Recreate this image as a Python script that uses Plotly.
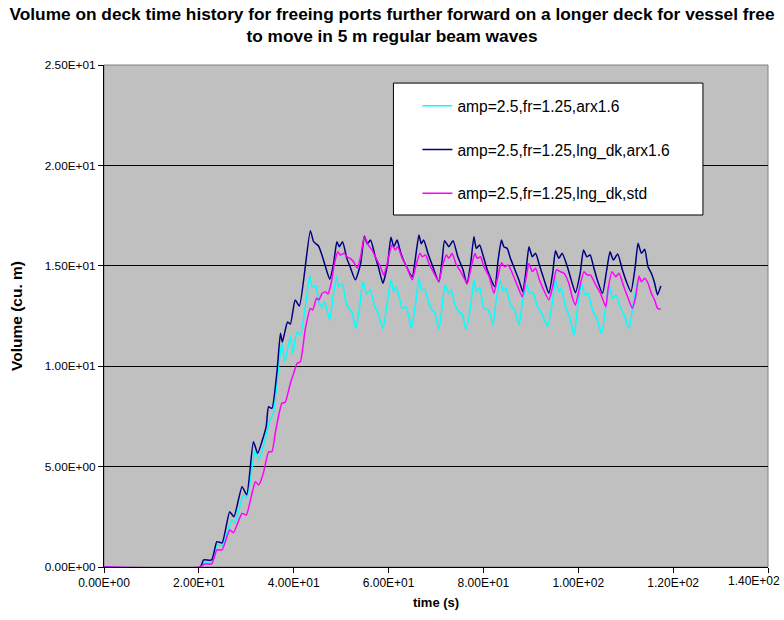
import plotly.graph_objects as go

# Volume on deck time histories (time in s, volume in cu. m)
t_arx = [0, 20.3, 21.0, 22.7, 23.8, 24.9, 27.0, 27.6, 29.4, 30.1, 31.9, 32.6, 33.6, 35.0, 35.7,
         36.8, 37.5, 38.1, 39.3, 39.8, 40.7, 41.4, 42.4, 43.4, 43.9, 44.6, 45.4, 46.0, 46.5,
         47.2, 47.6, 48.3, 49.0, 49.5, 50.3, 50.9, 51.6, 52.3, 53.1, 53.9, 54.6, 55.4, 56.2,
         57.0, 57.7, 58.8, 59.7, 60.5, 61.1, 61.6, 62.4, 62.9, 63.6, 64.3, 64.8, 65.7, 66.4,
         66.9, 67.6, 68.5, 69.2, 69.7, 70.6, 71.3, 71.9, 72.6, 73.2, 73.9, 74.8, 75.5, 76.3,
         77.3, 78.0, 78.5, 79.2, 80.1, 81.0, 81.5, 82.0, 82.7, 83.6, 84.2, 84.8, 85.7, 86.6,
         87.5, 88.3, 89.2, 89.8, 90.4, 91.4, 92.3, 93.5, 94.4, 95.2, 95.9, 96.4, 97.3, 98.3,
         99.1, 99.8, 100.7, 101.4, 102.0, 103.0, 103.9, 104.9, 105.8, 106.5, 107.2, 107.9,
         108.8, 109.6, 110.7, 111.8, 112.4]
v_arx = [0, 0, 0.2, 0.2, 1.1, 1.05, 2.34, 2.2, 3.59, 3.45, 5.83, 5.33, 6.0, 7.32, 7.65,
         9.98, 11.14, 10.22, 11.47, 10.64, 11.72, 11.55, 12.88, 14.5, 13.96, 14.0, 13.1, 12.96, 13.21,
         12.63, 12.3, 13.46, 14.46, 13.96, 14.1, 13.3, 12.9, 12.67, 11.89, 12.96, 14.21, 13.6, 13.8,
         13.0, 12.71, 11.86, 13.13, 14.3, 13.71, 13.96, 13.3, 12.88, 12.96, 12.46, 11.89, 13.13, 14.38,
         13.8, 13.83, 13.13, 12.8, 12.7, 11.84, 12.96, 14.04, 13.63, 13.8, 13.13, 12.71, 12.6, 11.84,
         12.96, 14.3, 13.71, 13.93, 12.88, 12.8, 12.5, 12.05, 13.3, 14.3, 13.71, 13.88, 13.05, 12.8,
         12.05, 13.3, 14.04, 13.63, 13.71, 12.96, 12.63, 11.97, 12.96, 14.3, 13.71, 13.88, 12.96, 12.38,
         11.55, 12.8, 14.13, 13.55, 13.63, 12.8, 12.38, 11.64, 12.96, 14.04, 13.38, 13.55,
         12.96, 12.6, 11.89, 13.46, 14.1]

t_lng_arx = [0, 20.3, 21.0, 22.7, 23.8, 24.9, 26.5, 27.4, 29.1, 30.1, 31.5, 32.4, 33.4, 34.2, 34.7,
             35.4, 36.5, 37.2, 37.6, 38.7, 39.3, 40.3, 41.2, 43.5, 44.2, 45.2, 46.0, 46.7, 47.6,
             48.4, 49.1, 49.6, 50.3, 51.2, 51.9, 53.0, 54.1, 54.9, 55.5, 56.2, 57.2, 57.9, 58.8,
             59.8, 60.5, 61.1, 61.8, 62.6, 63.6, 65.0, 65.7, 66.4, 66.9, 67.4, 68.3, 69.2, 70.6,
             71.3, 71.8, 72.7, 73.6, 74.6, 75.7, 76.5, 77.3, 78.0, 78.5, 79.2, 79.9, 80.8, 82.4,
             83.1, 83.8, 84.3, 85.0, 85.7, 86.4, 87.6, 88.3, 89.0, 89.6, 90.3, 91.0, 91.8, 92.8,
             93.8, 94.6, 95.2, 95.9, 96.6, 97.7, 98.5, 99.4, 100.4, 101.1, 101.8, 102.5, 103.3,
             104.0, 105.1, 106.0, 106.7, 107.4, 108.3, 109.3, 110.0, 111.1, 112.0, 112.6, 113.3,
             114.0, 114.7, 115.4, 116.1, 116.7, 117.4]
v_lng_arx = [0, 0, 0.35, 0.35, 1.26, 1.2, 2.75, 2.5, 4.0, 3.6, 6.24, 5.66, 6.32, 7.0, 7.98,
             7.9, 9.8, 11.64, 11.2, 12.2, 12.1, 13.3, 13.0, 16.75, 16.2, 16.0, 15.5, 14.95, 14.33,
             15.1, 16.2, 15.95, 16.2, 15.37, 14.95, 14.3, 15.1, 16.48, 16.1, 16.28, 15.45, 14.9, 14.13,
             15.1, 16.42, 15.95, 16.28, 15.62, 15.04, 14.46, 15.45, 16.53, 16.1, 16.28, 15.62, 15.04, 14.21,
             15.29, 16.25, 15.95, 16.25, 15.45, 14.8, 14.1, 15.1, 16.45, 15.87, 16.04, 15.54, 14.8, 13.96,
             15.29, 16.28, 15.95, 15.87, 15.37, 14.95, 14.21, 13.71, 14.8, 15.95, 15.45, 15.62, 15.04, 14.3,
             13.63, 14.63, 15.75, 15.37, 15.62, 14.95, 14.3, 13.66, 14.63, 15.79, 15.45, 15.54, 14.88,
             14.3, 13.63, 14.8, 15.7, 15.29, 15.59, 14.8, 14.3, 13.71, 14.95, 16.12, 15.62,
             15.82, 14.95, 14.63, 14.13, 13.55, 14.0]

t_lng_std = [0, 20.3, 21.2, 22.7, 23.8, 24.9, 26.5, 27.3, 29.1, 30.0, 31.9, 32.6, 33.6, 34.7, 35.4,
             36.1, 37.5, 38.2, 39.3, 40.0, 40.7, 41.4, 42.4, 43.5, 44.0, 44.8, 45.3, 46.0, 46.7,
             47.2, 47.9, 48.6, 49.3, 49.8, 50.7, 51.2, 51.9, 52.6, 53.4, 54.1, 54.9, 55.8, 56.5,
             57.2, 58.3, 59.0, 59.8, 60.7, 61.4, 61.9, 62.9, 63.8, 65.0, 65.7, 66.6, 67.1, 67.8,
             68.5, 69.2, 70.6, 71.3, 72.2, 72.7, 73.4, 74.3, 75.0, 76.6, 77.3, 78.2, 78.7, 79.4,
             80.1, 81.2, 82.2, 82.9, 83.8, 84.5, 85.2, 86.1, 87.1, 88.2, 88.9, 89.6, 90.3, 91.0,
             91.8, 92.7, 93.8, 94.6, 95.4, 96.2, 97.0, 98.0, 98.7, 99.4, 100.3, 101.2, 101.9,
             102.6, 103.7, 104.7, 105.8, 106.3, 107.1, 107.9, 108.6, 109.6, 110.4, 111.4, 112.1,
             112.8, 113.3, 114.0, 114.7, 115.4, 116.1, 116.7, 117.4]
v_lng_std = [0, 0, 0.15, 0.15, 0.85, 0.85, 1.84, 1.71, 2.67, 2.59, 4.25, 4.08, 4.67, 5.74, 5.74,
             6.66, 8.15, 8.2, 9.15, 9.65, 10.14, 10.22, 11.8, 12.88, 12.8, 13.38, 13.3, 13.63, 13.71,
             13.6, 14.13, 15.12, 15.7, 15.54, 15.62, 15.45, 15.37, 15.2, 14.88, 15.45, 16.45, 16.0, 15.79,
             15.45, 14.95, 14.54, 15.2, 16.04, 15.79, 15.95, 15.37, 14.95, 14.3, 14.95, 15.62, 15.45, 15.54,
             15.12, 14.8, 14.21, 14.95, 15.54, 15.37, 15.62, 15.04, 14.8, 14.13, 14.8, 15.62, 15.37, 15.45,
             14.95, 14.46, 13.63, 14.3, 15.15, 14.95, 15.04, 14.63, 14.04, 13.46, 14.3, 15.12, 14.71, 14.88,
             14.3, 13.8, 13.3, 13.96, 14.8, 14.71, 14.63, 14.13, 13.46, 13.05, 13.96, 14.71, 14.54,
             14.54, 14.04, 13.63, 12.96, 13.88, 14.71, 14.46, 14.63, 13.96, 13.46, 12.88, 13.46,
             14.49, 14.2, 14.38, 14.13, 13.63, 13.3, 12.88, 12.83]

series_names = ["amp=2.5,fr=1.25,arx1.6",
                "amp=2.5,fr=1.25,lng_dk,arx1.6",
                "amp=2.5,fr=1.25,lng_dk,std"]
series_colors = ["#00FFFF", "#000080", "#FF00FF"]

x_ticks = [0, 20, 40, 60, 80, 100, 120, 140]
x_tick_text = ["0.00E+00", "2.00E+01", "4.00E+01", "6.00E+01", "8.00E+01",
               "1.00E+02", "1.20E+02", "1.40E+02"]
y_ticks = [0, 5, 10, 15, 20, 25]
y_tick_text = ["0.00E+00", "5.00E+00", "1.00E+01", "1.50E+01", "2.00E+01", "2.50E+01"]

FONT = "Liberation Sans, Arial, sans-serif"

fig = go.Figure()
for i, (tx, vy) in enumerate([(t_arx, v_arx), (t_lng_arx, v_lng_arx), (t_lng_std, v_lng_std)]):
    fig.add_trace(go.Scatter(
        x=tx, y=vy, mode="lines", name=series_names[i],
        legendgroup=f"g{i}",
        line=dict(color=series_colors[i], width=1.5, shape="spline", smoothing=0.5),
    ))

# plot-area frame and legend box
fig.add_shape(type="rect", xref="paper", yref="paper", x0=0, x1=1, y0=0, y1=1,
              line=dict(color="#808080", width=1), layer="below")
fig.add_shape(type="rect", xref="paper", yref="paper",
              x0=0.4359, x1=0.902, y0=0.7012, y1=0.964,
              fillcolor="white", line=dict(color="black", width=1), layer="above")

# the last x tick label is pulled inside the page edge
tick_labels_shown = x_tick_text[:-1] + [""]
fig.add_annotation(
    text=x_tick_text[-1], xref="paper", yref="paper", x=1.0, y=0,
    xanchor="right", yanchor="top", xshift=14, yshift=-5,
    showarrow=False, font=dict(size=12),
)

fig.update_layout(
    width=784, height=620,
    margin=dict(l=104, r=16, t=65, b=53, autoexpand=False),
    paper_bgcolor="white",
    plot_bgcolor="#C0C0C0",
    font=dict(family=FONT, color="black", size=12),
    title=dict(
        text="<b>Volume on deck time history for freeing ports further forward on a longer deck for vessel free"
             "<br>to move in 5 m regular beam waves</b>",
        x=0.5, xref="container", xanchor="center",
        y=1 - 19.5 / 620, yref="container", yanchor="middle",
        font=dict(family=FONT, size=17.3, color="black"),
    ),
    xaxis=dict(
        range=[0, 140], tickvals=x_ticks, ticktext=tick_labels_shown,
        showgrid=False, zeroline=False, automargin=False,
        showline=True, linecolor="black", linewidth=1,
        ticks="outside", ticklen=5, tickcolor="black",
        title=dict(text="<b>time (s)</b>", font=dict(size=13), standoff=8),
    ),
    yaxis=dict(
        range=[0, 25], tickvals=y_ticks, ticktext=y_tick_text,
        showgrid=True, gridcolor="black", gridwidth=1, zeroline=False, automargin=False,
        showline=True, linecolor="black", linewidth=1,
        ticks="outside", ticklen=5, tickcolor="black",
        tickfont=dict(size=11.8),
        title=dict(text="<b>Volume (cu. m)</b>", font=dict(size=15.5), standoff=18),
    ),
    legend=dict(
        x=0.472, y=0.952, xanchor="left", yanchor="top",
        bgcolor="rgba(0,0,0,0)", borderwidth=0,
        font=dict(size=15.6), tracegroupgap=20.5, traceorder="grouped",
        itemwidth=30,
    ),
)

fig.write_html("out.html")
